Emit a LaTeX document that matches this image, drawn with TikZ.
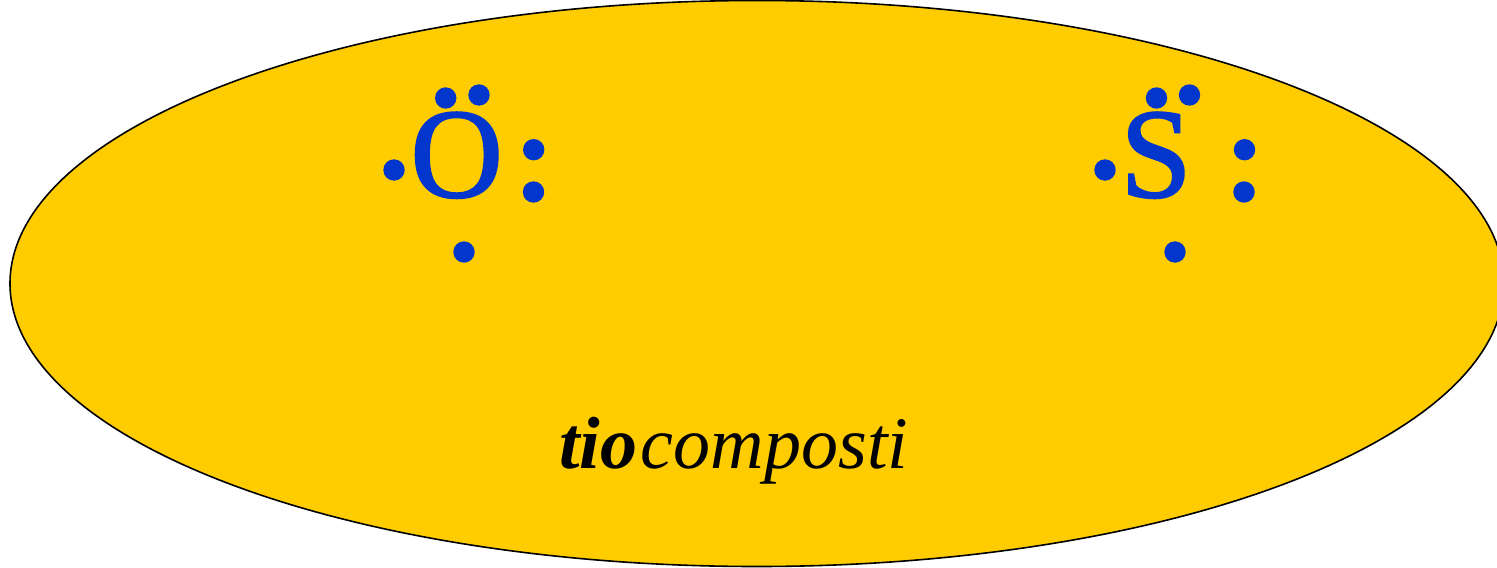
\documentclass[tikz,border=0pt]{standalone}
\usepackage{fontspec}
\usetikzlibrary{shapes.geometric}
\setmainfont{Liberation Serif}
\newfontfamily\elemfont[FakeBold=1.6]{Liberation Serif}
\definecolor{fillgold}{RGB}{255,204,0}
\definecolor{dotblue}{RGB}{3,54,204}
\tikzset{
  px/.style={x=0.5pt,y=-0.5pt},
  blob/.style={ellipse,draw=black,fill=fillgold,line width=0.8pt,inner sep=0pt,outer sep=0pt,minimum width=747pt,minimum height=283pt},
  edot/.style={circle,fill=dotblue,inner sep=0pt,outer sep=0pt,minimum size=10.7pt},
  elem/.style={text=dotblue,inner sep=0pt,anchor=base,font=\elemfont\fontsize{64}{64}\selectfont},
  caption/.style={inner sep=0pt,anchor=base west,font=\fontsize{37}{40}\selectfont\itshape}
}
\begin{document}
\begin{tikzpicture}[px]
\useasboundingbox (0,0) rectangle (1497,567);
\clip (0,0) rectangle (1497,567);
\node[blob] (shell) at (757,283.5) {};
\node[elem] (oxy) at (456.7,197) {O};
\node[elem] (sul) at (1156,197) {S};
\node[edot] (o1) at (445.7,98) {};
\node[edot] (o2) at (479,95) {};
\node[edot] (o3) at (533.7,149.7) {};
\node[edot] (o4) at (533.5,192) {};
\node[edot] (o5) at (394,170) {};
\node[edot] (o6) at (464,252) {};
\node[edot] (s1) at (1156.5,98) {};
\node[edot] (s2) at (1189.5,95) {};
\node[edot] (s3) at (1244.5,149.7) {};
\node[edot] (s4) at (1244,192) {};
\node[edot] (s5) at (1105,170) {};
\node[edot] (s6) at (1175,252) {};
\node[caption] (cap) at (559,468) {\textbf{tio}\kern1.7pt composti};
\end{tikzpicture}
\end{document}
